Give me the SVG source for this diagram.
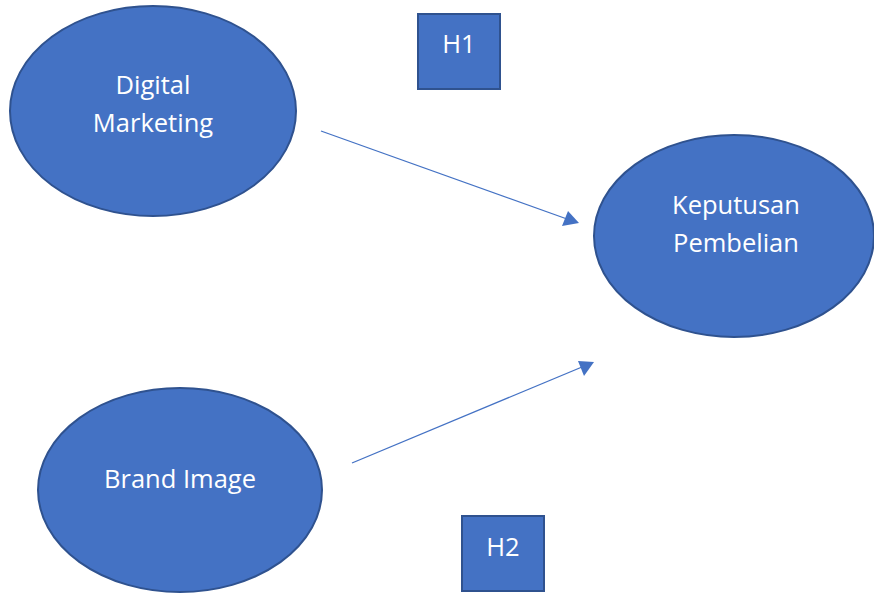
<svg xmlns="http://www.w3.org/2000/svg" width="874" height="593" viewBox="0 0 874 593">
  <defs>
    <style>
      .node { fill: #4472C4; stroke: #2F528F; stroke-width: 2; }
      .label { fill: #FFFFFF; font-family: "Open Sans", "Noto Sans", "Liberation Sans", sans-serif; font-size: 25.5px; text-anchor: middle; }
      .edge { stroke: #4472C4; stroke-width: 1.3; fill: none; }
    </style>
  </defs>
  <rect width="874" height="593" fill="#FFFFFF"/>

  <g id="connectors">
    <line class="edge" x1="321" y1="131" x2="567" y2="219"/>
    <path d="M579,223 L562,226 L568,211 z" fill="#4472C4"/>
    <line class="edge" x1="352" y1="463" x2="582" y2="367"/>
    <path d="M594,362 L584,376 L578,361 z" fill="#4472C4"/>
  </g>

  <g id="digital-marketing">
    <ellipse class="node" cx="153" cy="111" rx="143" ry="105"/>
    <text class="label" x="153" y="94">Digital</text>
    <text class="label" x="153" y="132">Marketing</text>
  </g>

  <g id="keputusan-pembelian">
    <ellipse class="node" cx="734" cy="236" rx="140" ry="101"/>
    <text class="label" x="736" y="214">Keputusan</text>
    <text class="label" x="736" y="252">Pembelian</text>
  </g>

  <g id="brand-image">
    <ellipse class="node" cx="180" cy="490" rx="142" ry="102"/>
    <text class="label" x="180" y="488">Brand Image</text>
  </g>

  <g id="h1">
    <rect class="node" x="418" y="14" width="82" height="75"/>
    <text class="label" x="459" y="53">H1</text>
  </g>

  <g id="h2">
    <rect class="node" x="462" y="516" width="82" height="75"/>
    <text class="label" x="503" y="556">H2</text>
  </g>
</svg>
